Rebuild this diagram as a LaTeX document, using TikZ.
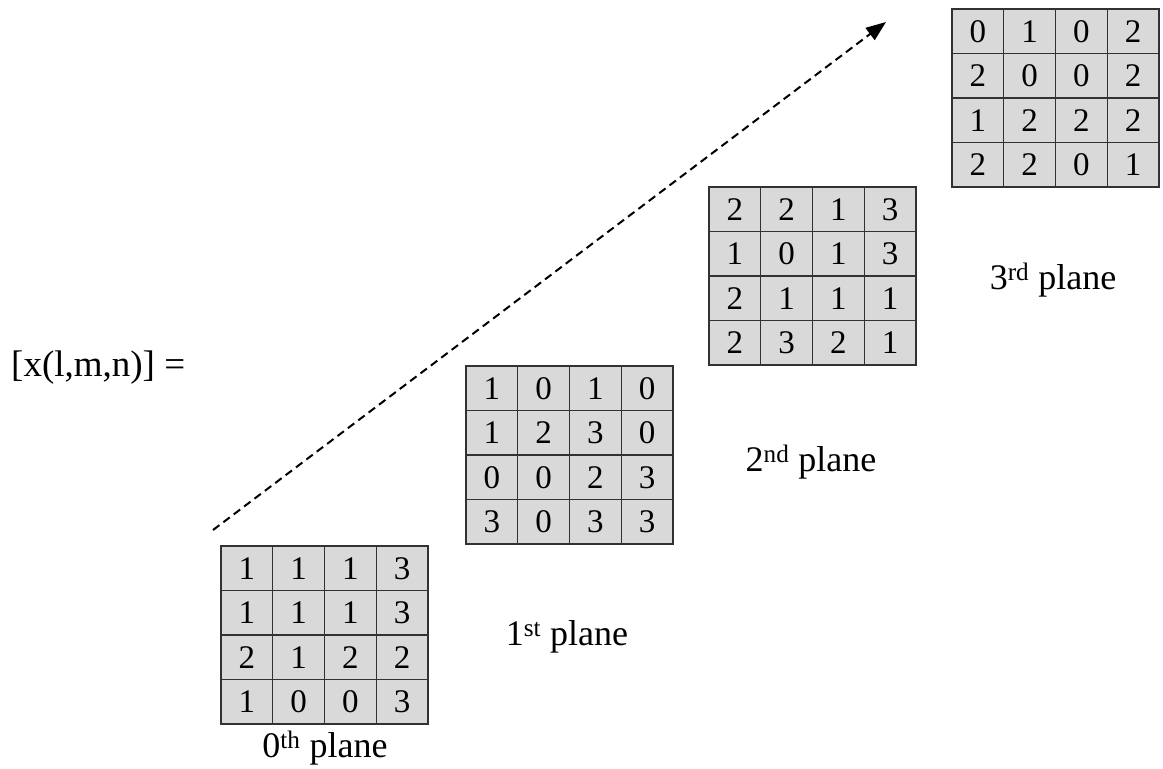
\documentclass[tikz,border=0pt]{standalone}
\usepackage{fontspec}
\setmainfont{Liberation Serif}
\usetikzlibrary{arrows.meta}
\definecolor{cellgray}{RGB}{217,217,217}
\definecolor{linegray}{RGB}{50,50,50}
\newcommand\drawplane[4]{%
  \foreach \row [count=\r] in {#4} {
    \foreach \v [count=\c] in \row {
      \node[cell] (#1-\r-\c) at ({#2+(\c-0.5)*51.75},{#3+(\r-0.5)*44.5}) {\v};
    }
  }
}
\begin{document}
\begin{tikzpicture}[x=1pt,y=-1pt,
  cell/.style={draw=linegray, line width=1.1pt, fill=cellgray, minimum width=51.75pt, minimum height=44.5pt, inner sep=0pt, font=\fontsize{33}{33}\selectfont},
  lbl/.style={font=\fontsize{36}{36}\selectfont, inner sep=0pt},
  flow/.style={draw=black, line width=2pt, dash pattern=on 8pt off 5pt, -{Triangle[length=20pt,width=15pt]}}]
\useasboundingbox (0,0) rectangle (1163,769);
\fill[white] (0,0) rectangle (1163,769);
\drawplane{p0}{221}{546}{{1,1,1,3},{1,1,1,3},{2,1,2,2},{1,0,0,3}}
\drawplane{p1}{466}{366}{{1,0,1,0},{1,2,3,0},{0,0,2,3},{3,0,3,3}}
\drawplane{p2}{709}{187}{{2,2,1,3},{1,0,1,3},{2,1,1,1},{2,3,2,1}}
\drawplane{p3}{952}{9}{{0,1,0,2},{2,0,0,2},{1,2,2,2},{2,2,0,1}}
\node[lbl] (l0) at (325,748) {0\textsuperscript{th} plane};
\node[lbl] (l1) at (567,637) {1\textsuperscript{st} plane};
\node[lbl] (l2) at (811,462) {2\textsuperscript{nd} plane};
\node[lbl] (l3) at (1053,280) {3\textsuperscript{rd} plane};
\node[lbl, anchor=west, font=\fontsize{37}{37}\selectfont] (eq) at (11,368) {[x(l,m,n)] =};
\coordinate (as) at (213,530);
\coordinate (ae) at (886,22);
\draw[flow] (as) -- (ae);
\end{tikzpicture}
\end{document}
